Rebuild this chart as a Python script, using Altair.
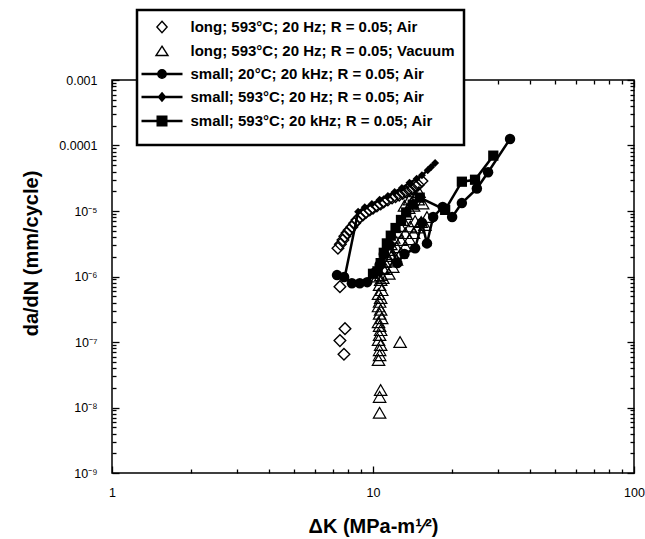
import json
import altair as alt
import pandas as pd

FONT = "Liberation Sans"

# ---------------- data ----------------
# long crack; 593 C; 20 Hz; R = 0.05; Air  (open diamonds)
LA_X = [7.34, 7.5, 7.67, 7.8, 7.95, 8.1, 8.30, 8.5, 8.68, 8.9, 9.15, 9.4, 9.72, 10.0, 10.35, 10.7,
        10.99, 11.4, 11.83, 12.2, 12.6, 13.0, 13.4, 13.8, 14.2, 14.6, 14.9, 15.4,
        7.47, 7.81, 7.47, 7.74]
LA_Y = [2.7e-6, 3.1e-6, 3.6e-6, 4.1e-6, 4.6e-6, 5.1e-6, 5.7e-6, 6.5e-6, 7.3e-6, 8.0e-6, 8.7e-6,
        9.5e-6, 1.04e-5, 1.1e-5, 1.19e-5, 1.28e-5, 1.37e-5, 1.47e-5, 1.58e-5, 1.66e-5, 1.75e-5,
        1.85e-5, 1.95e-5, 2.05e-5, 2.17e-5, 2.35e-5, 2.5e-5, 2.87e-5,
        7.0e-7, 1.6e-7, 1.05e-7, 6.5e-8]

# long crack; 593 C; 20 Hz; R = 0.05; Vacuum  (open triangles)
LV_X = [10.7, 10.6, 10.8, 10.5, 10.7, 10.6, 10.5, 10.7, 10.6, 10.8, 10.5, 10.6, 10.7, 10.6, 10.5,
        10.7, 10.6, 10.6, 10.5, 10.7, 10.6, 10.6, 12.7, 10.9, 10.4,
        10.73, 10.9, 11.1, 11.3, 11.5, 11.7, 12.0, 12.4, 12.7, 13.0, 13.4, 13.7, 14.1, 14.6, 15.0,
        11.2, 11.5, 11.9, 12.3, 12.8, 13.3, 13.9, 14.5, 15.8, 16.1,
        11.5, 11.9, 12.3, 12.8, 13.3, 13.8, 14.3, 14.8, 15.3,
        13.2, 13.8, 14.3, 14.9, 15.5]
LV_Y = [8.85e-7, 7.4e-7, 6.2e-7, 5.4e-7, 4.7e-7, 4.1e-7, 3.5e-7, 3.1e-7, 2.7e-7, 2.3e-7, 2.0e-7,
        1.75e-7, 1.52e-7, 1.28e-7, 1.07e-7, 9.0e-8, 7.5e-8, 6.3e-8, 5.3e-8, 1.85e-8, 1.45e-8, 8.3e-9,
        1.0e-7, 9.5e-7, 1.0e-6,
        1.05e-6, 1.35e-6, 1.66e-6, 2.06e-6, 2.54e-6, 3.1e-6, 3.9e-6, 4.8e-6, 5.9e-6, 7.3e-6, 9.0e-6,
        1.11e-5, 1.37e-5, 1.7e-5, 1.95e-5,
        1.3e-6, 1.7e-6, 2.2e-6, 2.8e-6, 3.6e-6, 4.6e-6, 5.8e-6, 7.0e-6, 6.1e-6, 8.1e-6,
        1.1e-6, 1.4e-6, 1.8e-6, 2.3e-6, 2.9e-6, 3.7e-6, 4.6e-6, 5.6e-6, 6.8e-6,
        1.2e-5, 1.5e-5, 1.2e-5, 1.5e-5, 1.3e-5]

# small crack; 20 C; 20 kHz; R = 0.05; Air  (filled circles + line)
S20_X = [7.28, 7.75, 8.3, 8.9, 9.5, 10.2, 10.6, 11.0, 11.6, 12.4, 13.2, 14.5, 15.4, 16.1, 17.0,
         18.5, 20.1, 21.9, 25.0, 27.6, 33.5]
S20_Y = [1.05e-6, 9.8e-7, 7.9e-7, 7.9e-7, 8.2e-7, 1.16e-6, 1.5e-6, 2.2e-6, 3.0e-6, 1.6e-6, 2.2e-6,
         2.7e-6, 6.6e-6, 3.2e-6, 8.1e-6, 1.15e-5, 8.1e-6, 1.32e-5, 2.2e-5, 3.9e-5, 1.26e-4]

# small crack; 593 C; 20 Hz; R = 0.05; Air  (small filled diamonds + line)
SH_X = [7.8, 8.77, 9.3, 9.9, 10.6, 11.4, 12.1, 12.9, 13.8, 14.7, 15.4, 16.2, 16.7, 17.3]
SH_Y = [1.0e-6, 9.7e-6, 1.14e-5, 1.28e-5, 1.48e-5, 1.7e-5, 1.95e-5, 2.25e-5, 2.7e-5, 3.1e-5,
        3.5e-5, 4.2e-5, 4.7e-5, 5.4e-5]

# small crack; 593 C; 20 kHz; R = 0.05; Air  (filled squares + line)
SK_X = [10.0, 10.4, 10.7, 11.0, 11.3, 11.7, 12.2, 12.8, 13.4, 14.2, 15.1, 18.9, 21.9, 24.6, 28.9]
SK_Y = [1.1e-6, 1.2e-6, 1.6e-6, 2.3e-6, 3.2e-6, 4.2e-6, 5.5e-6, 7.3e-6, 9.5e-6, 1.25e-5, 1.6e-5,
        1.04e-5, 2.8e-5, 3.0e-5, 7.0e-5]

LEGEND_LABELS = [
    "long; 593°C; 20 Hz; R = 0.05; Air",
    "long; 593°C; 20 Hz; R = 0.05; Vacuum",
    "small; 20°C; 20 kHz; R = 0.05; Air",
    "small; 593°C; 20 Hz; R = 0.05; Air",
    "small; 593°C; 20 kHz; R = 0.05; Air",
]

X_TICKS = [1, 2, 3, 4, 5, 6, 7, 8, 9, 10, 20, 30, 40, 50, 60, 70, 80, 90, 100]
Y_TICKS = [k * 10.0 ** e for e in range(-9, -3) for k in range(1, 10)] + [1e-3]
X_LABELS = ["1", "10", "100"]
Y_LABELS = ["10⁻⁹", "10⁻⁸", "10⁻⁷", "10⁻⁶", "10⁻⁵", "0.0001", "0.001"]
X_TITLE = "ΔK  (MPa-m¹⁄²)"
Y_TITLE = "da/dN  (mm/cycle)"

# ---------------- helpers ----------------
def frame(xs, ys):
    return pd.DataFrame({"x": xs, "y": ys, "i": list(range(len(xs)))})

W, H = 522, 393
LOG = "log(datum.value)/LN10"
DEC = f"abs({LOG} - round({LOG})) < 0.01"
TICK = alt.ExprRef(expr=f"{DEC} ? -7 : -4")
XLAB = f"{DEC} ? {json.dumps(X_LABELS)}[round({LOG})] : ''"
YLAB = f"{DEC} ? {json.dumps(Y_LABELS, ensure_ascii=False)}[round({LOG}) + 9] : ''"

xscale = alt.Scale(type="log", domain=[1, 100], nice=False)
yscale = alt.Scale(type="log", domain=[1e-9, 1e-3], nice=False)

common_axis = dict(domain=False, grid=False, tickColor="black", tickWidth=1.3,
                   labelOverlap=False, labelFont=FONT, labelColor="black",
                   labelFontSize=12.5, titleFont=FONT, titleFontWeight="bold",
                   titleColor="black", titleFontSize=20)

x_axis = alt.Axis(orient="bottom", values=X_TICKS, labelExpr=XLAB, tickSize=TICK,
                  labelFlush=False, labelPadding=26, labelBaseline="middle",
                  title=X_TITLE, titleX=W / 2, titleY=59, titleAlign="center",
                  titleBaseline="alphabetic", **common_axis)
y_axis = alt.Axis(orient="left", values=Y_TICKS, labelExpr=YLAB, tickSize=TICK,
                  labelFlush=False, labelPadding=22, labelBaseline="middle", labelAlign="right",
                  title=Y_TITLE, titleX=-75, titleY=173, titleAngle=270, titleAlign="center",
                  titleBaseline="alphabetic", **common_axis)
x_top = alt.Axis(orient="top", values=X_TICKS, labels=False, tickSize=TICK, title=None,
                 **common_axis)
y_right = alt.Axis(orient="right", values=Y_TICKS, labels=False, tickSize=TICK, title=None,
                   **common_axis)

X = alt.X("x:Q", scale=xscale, axis=x_axis)
Y = alt.Y("y:Q", scale=yscale, axis=y_axis)

def points(df, shape, size, filled, sw=1.4):
    return alt.Chart(df).mark_point(shape=shape, size=size, filled=filled, color="black",
                                    opacity=1, strokeWidth=sw).encode(x=X, y=Y)

def line(df):
    return alt.Chart(df).mark_line(color="black", strokeWidth=2.5, opacity=1).encode(
        x=X, y=Y, order="i:Q")

la, lv = frame(LA_X, LA_Y), frame(LV_X, LV_Y)
s20, sh, sk = frame(S20_X, S20_Y), frame(SH_X, SH_Y), frame(SK_X, SK_Y)

# legend symbols (unit square coordinates)
LEGEND_PATHS = [
    "M0,-0.95L0.85,0L0,0.95L-0.85,0Z",
    "M0,-0.8L1.0,0.75L-1.0,0.75Z",
    "M-3.3,-0.08H3.3V0.08H-3.3Z M-0.7,0A0.7,0.7 0 1,1 0.7,0A0.7,0.7 0 1,1 -0.7,0Z",
    "M-3.3,-0.08H3.3V0.08H-3.3Z M0,-0.7L0.6,0L0,0.7L-0.6,0Z",
    "M-3.3,-0.08H3.3V0.08H-3.3Z M-0.8,-0.8H0.8V0.8H-0.8Z",
]
LEGEND_FILLS = ["white", "white", "black", "black", "black"]
LEGEND_STROKES = ["black"] * 5

LEG = alt.Legend(title=" ", titleOrient="bottom", titleFontSize=6, titlePadding=0,
                 orient="none", legendX=25, legendY=-70, direction="vertical",
                 fillColor="white", strokeColor="black", padding=9.5, rowPadding=7,
                 symbolSize=144, symbolOffset=8, symbolStrokeWidth=1.4,
                 labelOffset=21, labelFont=FONT, labelFontSize=15,
                 labelFontWeight="bold", labelColor="black", labelLimit=600,
                 labelExpr="datum.label + '      '", zindex=5)

legend_df = pd.DataFrame({"series": LEGEND_LABELS, "x": [1.0] * 5, "y": [1e-6] * 5})
legend_layer = alt.Chart(legend_df).transform_filter("false").mark_point(
    opacity=1, strokeWidth=1.4).encode(
    x=X, y=Y,
    shape=alt.Shape("series:N", scale=alt.Scale(domain=LEGEND_LABELS, range=LEGEND_PATHS), legend=LEG),
    fill=alt.Fill("series:N", scale=alt.Scale(domain=LEGEND_LABELS, range=LEGEND_FILLS), legend=LEG),
    stroke=alt.Stroke("series:N", scale=alt.Scale(domain=LEGEND_LABELS, range=LEGEND_STROKES), legend=LEG),
)

inner = alt.layer(
    points(la, "diamond", 135, False),
    points(lv, "triangle-up", 155, False, 1.2),
    line(s20), points(s20, "circle", 110, True),
    line(sh), points(sh, "diamond", 64, True),
    line(sk), points(sk, "square", 105, True),
    legend_layer,
)

frame_layer = alt.Chart(la).mark_point(opacity=0).encode(
    x=alt.X("x:Q", scale=xscale, axis=x_top),
    y=alt.Y("y:Q", scale=yscale, axis=y_right),
)

chart = alt.layer(inner, frame_layer).resolve_scale(
    x="independent", y="independent"
).properties(
    width=W, height=H,
    autosize=alt.AutoSizeParams(type="none"),
    padding={"left": 112, "top": 80, "right": 11, "bottom": 66},
).configure_view(
    stroke="black", strokeWidth=1.5
).configure_legend(strokeWidth=2.5)

chart.save("out.html", embed_options={"renderer": "svg", "actions": False})
